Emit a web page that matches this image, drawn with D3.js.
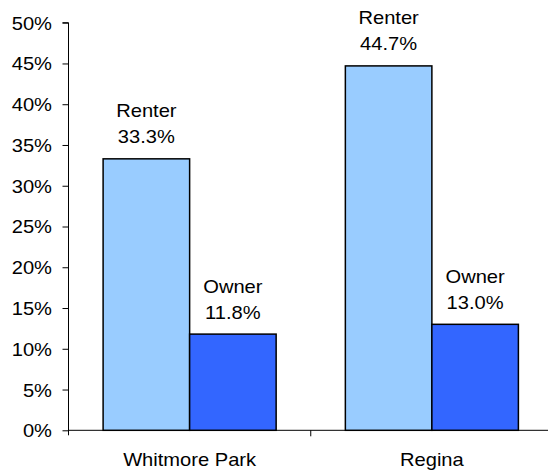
<!DOCTYPE html>
<html><head><meta charset="utf-8">
<script src="https://cdn.jsdelivr.net/npm/d3@7"></script>
<style>body{margin:0;background:#fff}svg{display:block}text{font-family:"Liberation Sans",Arial,sans-serif;fill:#000}</style>
</head><body><svg id="c" width="548" height="470"></svg>
<script>
const categories = ["Whitmore Park", "Regina"];
const seriesNames = ["Renter", "Owner"];
const renterValues = [33.3, 44.7];
const ownerValues = [11.8, 13.0];
const yTicks = [0, 5, 10, 15, 20, 25, 30, 35, 40, 45, 50];
const colors = ["#99CCFF", "#3366FF"];

const FS = 17.5, SX = 1.15;
function stretch(sel) {
  sel.each(function () {
    const t = d3.select(this);
    const xv = +(t.attr("x") || 0);
    t.attr("x", xv / SX).attr("transform", `scale(${SX},1)`)
     .attr("font-size", FS).attr("font-family", "Liberation Sans, Arial, sans-serif").attr("fill", "#000");
  });
}

const svg = d3.select("#c");
const x0 = 68.5, x1 = 553, yBase = 430.3, yTop = 22.7;
const x = d3.scaleBand().domain(categories).range([x0, x1]).paddingInner(0).paddingOuter(0);
const xs = d3.scaleBand().domain(seriesNames).range([0, x.bandwidth()]).paddingInner(0).paddingOuter(0.4);
const y = d3.scaleLinear().domain([0, 50]).range([yBase, yTop]);

const seriesVals = [renterValues, ownerValues];
const data = [];
categories.forEach((c, i) => seriesNames.forEach((s, j) => data.push({c, s, v: seriesVals[j][i], j})));

// y axis
const ya = svg.append("g").attr("transform", `translate(${x0},0)`)
  .call(d3.axisLeft(y).tickValues(yTicks).tickFormat(d => d + "%").tickSize(6).tickPadding(10.5));
ya.select(".domain").attr("d", `M-6,${yTop}H0V${yBase + 5}`).attr("stroke", "#000");
ya.selectAll("line").attr("stroke", "#000");
ya.selectAll("text").attr("dy", "0.37em").call(stretch);

// x axis
const xa = svg.append("g").attr("transform", `translate(0,${yBase})`)
  .call(d3.axisBottom(x).tickSize(0).tickPadding(23));
xa.select(".domain").attr("d", `M${x0},0H548`).attr("stroke", "#000");
xa.selectAll("text").call(stretch);
svg.append("g").selectAll("line").data(categories.slice(1)).join("line")
  .attr("x1", d => x(d)).attr("x2", d => x(d)).attr("y1", yBase).attr("y2", yBase + 6).attr("stroke", "#000");

// bars
svg.append("g").selectAll("rect").data(data).join("rect")
  .attr("x", d => x(d.c) + xs(d.s))
  .attr("y", d => y(d.v))
  .attr("width", xs.bandwidth())
  .attr("height", d => yBase - y(d.v))
  .attr("fill", d => colors[d.j])
  .attr("stroke", "#000").attr("stroke-width", 1.5);

// labels
const lg = svg.append("g").selectAll("g").data(data).join("g")
  .attr("transform", d => `translate(${x(d.c) + xs(d.s) + xs.bandwidth() / 2},${y(d.v)})`);
lg.append("text").attr("text-anchor", "middle").attr("y", -41.6).text(d => d.s).call(stretch);
lg.append("text").attr("text-anchor", "middle").attr("y", -15.6).text(d => d.v.toFixed(1) + "%").call(stretch);
</script></body></html>
